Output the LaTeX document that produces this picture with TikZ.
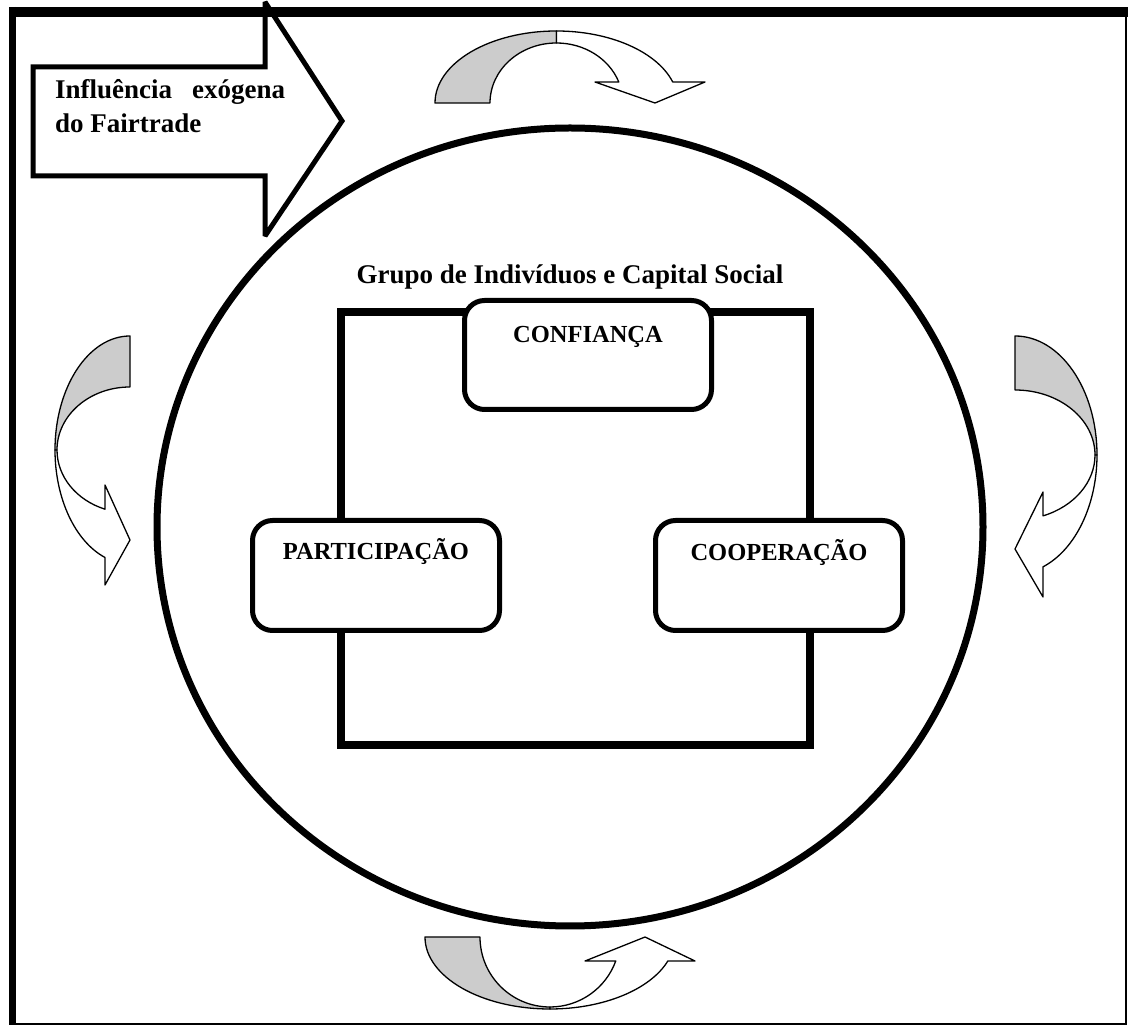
\documentclass[tikz,border=0pt]{standalone}
\usepackage{fontspec}
\setmainfont{Liberation Serif}
\begin{document}
\begin{tikzpicture}[x=1pt,y=1pt,
  rbox/.style={draw, line width=5pt, rounded corners=20pt, fill=white, inner sep=0pt,
    minimum width=247pt, font=\fontsize{24.5}{29}\selectfont\bfseries},
  band/.style={draw, line width=1.3pt, line join=round},
  backband/.style={band, fill=gray!40},
  frontband/.style={band, fill=white},
  bigtext/.style={inner sep=0pt, font=\fontsize{27}{34}\selectfont\bfseries}
  ]
\useasboundingbox (0,0) rectangle (1128,1026);
% big circle
\draw[line width=7pt] (570,499) ellipse [x radius=413pt, y radius=399pt];
% title
\node[bigtext, anchor=base] (title) at (570,742) {Grupo de Indivíduos e Capital Social};
% inner rectangle
\draw[line width=8pt] (341,281) rectangle (810,714);
% boxes
\node[rbox, text height=42pt, text depth=67pt, anchor=north west] (conf) at (462,728) {CONFIANÇA};
\node[rbox, text height=39pt, text depth=71pt, anchor=north west] (part) at (250,508) {PARTICIPAÇÃO};
\node[rbox, text height=40pt, text depth=70pt, anchor=north west] (coop) at (653,508) {COOPERAÇÃO};
% left curved arrow
\begin{scope}[shift={(130,576)}]
\path[backband] (90:75pt and 114pt) arc[start angle=90, end angle=180, x radius=75pt, y radius=114pt]
  -- (180:73pt and 63pt) arc[start angle=180, end angle=90, x radius=73pt, y radius=63pt] -- cycle;
\path[frontband] (180:75pt and 114pt) arc[start angle=180, end angle=250.5, x radius=75pt, y radius=114pt]
  -- (-25,-135) -- (0,-90) -- (-25,-35)
  -- (250:73pt and 63pt) arc[start angle=250, end angle=180, x radius=73pt, y radius=63pt] -- cycle;
\end{scope}
% right curved arrow
\begin{scope}[shift={(1015,571)}]
\path[backband] (90:82pt and 119pt) arc[start angle=90, end angle=0, x radius=82pt, y radius=119pt]
  -- (0:80pt and 65pt) arc[start angle=0, end angle=90, x radius=80pt, y radius=65pt] -- cycle;
\path[frontband] (0:82pt and 119pt) arc[start angle=0, end angle=-70.03, x radius=82pt, y radius=119pt]
  -- (28,-142) -- (0,-94) -- (28,-37)
  -- (-69.5:80pt and 65pt) arc[start angle=-69.5, end angle=0, x radius=80pt, y radius=65pt] -- cycle;
\end{scope}
% top curved arrow
\begin{scope}[shift={(556.5,923)}]
\path[backband] (180:121.5pt and 72pt) arc[start angle=180, end angle=90, x radius=121.5pt, y radius=72pt]
  -- (90:66.5pt and 60pt) arc[start angle=90, end angle=180, x radius=66.5pt, y radius=60pt] -- cycle;
\path[frontband] (90:121.5pt and 72pt) arc[start angle=90, end angle=17, x radius=121.5pt, y radius=72pt]
  -- (148.5,21) -- (98.5,0) -- (38.5,21)
  -- (20.49:66.5pt and 60pt) arc[start angle=20.49, end angle=90, x radius=66.5pt, y radius=60pt] -- cycle;
\end{scope}
% bottom curved arrow
\begin{scope}[shift={(550,89)}]
\path[backband] (180:125pt and 72pt) arc[start angle=180, end angle=270, x radius=125pt, y radius=72pt]
  -- (270:70pt and 70pt) arc[start angle=270, end angle=180, x radius=70pt, y radius=70pt] -- cycle;
\path[frontband] (270:125pt and 72pt) arc[start angle=270, end angle=340.53, x radius=125pt, y radius=72pt]
  -- (145,-24) -- (95,0) -- (35,-24)
  -- (339.95:70pt and 70pt) arc[start angle=339.95, end angle=270, x radius=70pt, y radius=70pt] -- cycle;
\end{scope}
% block arrow
\draw[line width=5pt, fill=white, miter limit=2] (33,959) -- (265,959) -- (265,1024) -- (342,905)
  -- (265,790) -- (265,850) -- (33,850) -- cycle;
\node[bigtext, anchor=base west] (infl) at (55,927) {\makebox[230pt][s]{Influência exógena}};
\node[bigtext, anchor=base west] (fair) at (55,893) {do Fairtrade};
% frame
\draw[line width=2pt] (12.5,2) -- (1126,2) -- (1126,1014);
\draw[line width=10pt] (9,1014) -- (1128,1014);
\draw[line width=7pt] (12.5,1019) -- (12.5,1);
\end{tikzpicture}
\end{document}
